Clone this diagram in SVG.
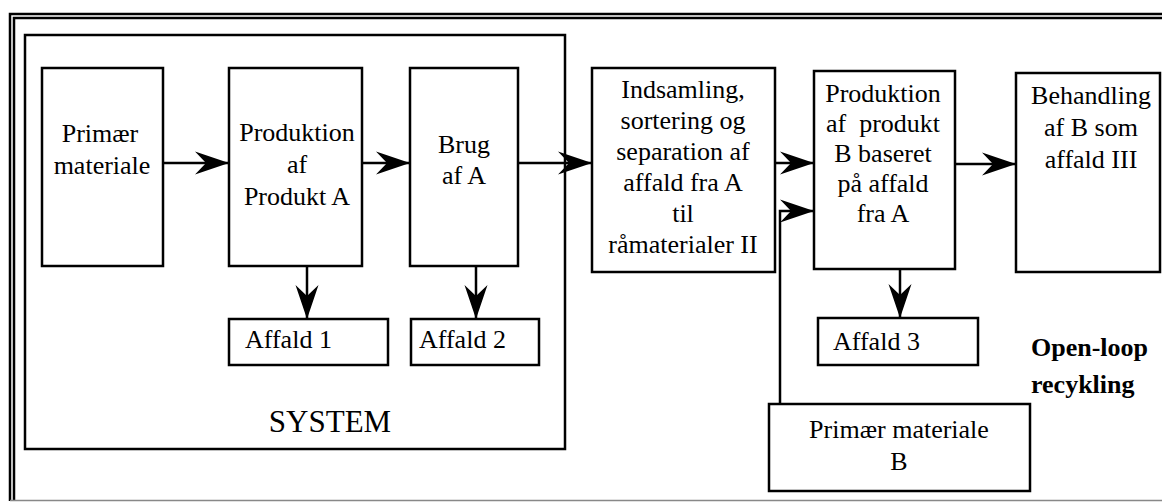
<svg xmlns="http://www.w3.org/2000/svg" width="1162" height="502" viewBox="0 0 1162 502">
<style>
.box{fill:#fff;stroke:#000;stroke-width:2.5}
.frame{fill:none;stroke:#000;stroke-width:2.5}
.t{font-family:"Liberation Serif","Times New Roman",serif;font-size:26px;fill:#000}
.c{text-anchor:middle}
.b{font-weight:bold}
.ln{fill:none;stroke:#000;stroke-width:2.5}
</style>
<defs>
<marker id="ah" markerUnits="userSpaceOnUse" markerWidth="40" markerHeight="30" viewBox="-36 -15 40 30" refX="0" refY="0" orient="auto">
<path d="M0,0 L-34,-11.5 L-23,0 L-34,11.5 Z" fill="#000"/>
</marker>
</defs>
<rect x="0" y="0" width="1162" height="502" fill="#fff"/>
<g id="frame">
<path d="M10,501 V14 H1162" class="frame"/>
<path d="M14,501 V18 H1162" class="frame"/>
<line x1="10" y1="500.5" x2="1162" y2="500.5" stroke="#888" stroke-width="1.5"/>
</g>
<g id="system">
<rect x="25" y="35" width="540" height="414" class="frame"/>
<text x="330" y="432" class="t c" style="font-size:31px">SYSTEM</text>
</g>
<g id="primaer">
<rect x="42" y="68" width="121" height="198" class="box"/>
<text class="t c"><tspan x="100" y="142">Primær</tspan><tspan x="102" y="174">materiale</tspan></text>
</g>
<g id="prodA">
<rect x="229" y="68" width="133" height="198" class="box"/>
<text class="t c"><tspan x="297" y="141">Produktion</tspan><tspan x="297" y="173">af</tspan><tspan x="297" y="205">Produkt A</tspan></text>
</g>
<g id="brug">
<rect x="410" y="68" width="108" height="198" class="box"/>
<text class="t c"><tspan x="464" y="153">Brug</tspan><tspan x="464" y="184">af A</tspan></text>
</g>
<g id="indsamling">
<rect x="592" y="68" width="183" height="204" class="box"/>
<text class="t c"><tspan x="683" y="98">Indsamling,</tspan><tspan x="683" y="129">sortering og</tspan><tspan x="683" y="160">separation af</tspan><tspan x="683" y="191">affald fra A</tspan><tspan x="683" y="222">til</tspan><tspan x="683" y="253">råmaterialer II</tspan></text>
</g>
<g id="prodB">
<rect x="814" y="71" width="141" height="198" class="box"/>
<text class="t c"><tspan x="883" y="102">Produktion</tspan><tspan x="883" y="132">af&#160; produkt</tspan><tspan x="883" y="162">B baseret</tspan><tspan x="883" y="192">på affald</tspan><tspan x="883" y="222">fra A</tspan></text>
</g>
<g id="behandling">
<rect x="1016" y="73" width="144" height="199" class="box"/>
<text class="t c"><tspan x="1091" y="104">Behandling</tspan><tspan x="1091" y="136">af B som</tspan><tspan x="1091" y="168">affald III</tspan></text>
</g>
<g id="affald1">
<rect x="229" y="319" width="159" height="46" class="box"/>
<text x="245" y="348" class="t">Affald 1</text>
</g>
<g id="affald2">
<rect x="411" y="319" width="128" height="46" class="box"/>
<text x="419" y="348" class="t">Affald 2</text>
</g>
<g id="affald3">
<rect x="818" y="318" width="160" height="47" class="box"/>
<text x="833" y="350" class="t">Affald 3</text>
</g>
<g id="primaerB">
<rect x="769" y="404" width="261" height="87" class="box"/>
<text class="t c"><tspan x="899" y="438">Primær materiale</tspan><tspan x="899" y="470">B</tspan></text>
</g>
<g id="label">
<text class="t b"><tspan x="1031" y="356">Open-loop</tspan><tspan x="1031" y="393">recykling</tspan></text>
</g>
<g id="connectors">
<line x1="163" y1="163" x2="229" y2="163" class="ln" marker-end="url(#ah)"/>
<line x1="362" y1="163" x2="410" y2="163" class="ln" marker-end="url(#ah)"/>
<line x1="518" y1="163" x2="592" y2="163" class="ln" marker-end="url(#ah)"/>
<line x1="775" y1="163" x2="814" y2="163" class="ln" marker-end="url(#ah)"/>
<path d="M780,404 V211 H814" class="ln" marker-end="url(#ah)"/>
<line x1="955" y1="164" x2="1016" y2="164" class="ln" marker-end="url(#ah)"/>
<line x1="307" y1="266" x2="307" y2="319" class="ln" marker-end="url(#ah)"/>
<line x1="476" y1="266" x2="476" y2="319" class="ln" marker-end="url(#ah)"/>
<line x1="900" y1="269" x2="900" y2="318" class="ln" marker-end="url(#ah)"/>
</g>
</svg>
